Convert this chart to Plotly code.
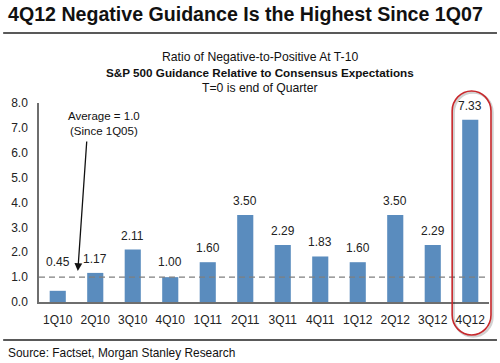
import plotly.graph_objects as go

categories = ["1Q10", "2Q10", "3Q10", "4Q10", "1Q11", "2Q11", "3Q11", "4Q11",
              "1Q12", "2Q12", "3Q12", "4Q12"]
values = [0.45, 1.17, 2.11, 1.00, 1.60, 3.50, 2.29, 1.83, 1.60, 3.50, 2.29, 7.33]
labels = ["0.45", "1.17", "2.11", "1.00", "1.60", "3.50", "2.29", "1.83",
          "1.60", "3.50", "2.29", "7.33"]
y_ticks = [0, 1, 2, 3, 4, 5, 6, 7, 8]
y_tick_labels = ["0.0", "1.0", "2.0", "3.0", "4.0", "5.0", "6.0", "7.0", "8.0"]
average = 1.0

W, H = 500, 363
L, R, T, B = 37, 489, 103, 302  # plot area in pixels

def px(x):
    return (x - L) / (R - L)

def py(y):
    return (B - y) / (B - T)

FONT = "Liberation Sans, Arial, sans-serif"
BAR = "#5A8CBE"

fig = go.Figure()
fig.add_trace(go.Bar(
    x=categories, y=values,
    marker=dict(color=BAR, line=dict(width=0)),
    hoverinfo="skip",
))

shapes = []
shapes.append(dict(type="line", xref="paper", yref="y", x0=0, x1=1, y0=average, y1=average,
                   line=dict(color="#7f7f7f", width=1.2, dash="6px,4px"), layer="above"))
shapes.append(dict(type="line", xref="paper", yref="paper", x0=px(1), x1=px(497), y0=py(33), y1=py(33),
                   line=dict(color="#222222", width=1.3)))
shapes.append(dict(type="line", xref="paper", yref="paper", x0=px(1), x1=px(497), y0=py(340), y1=py(340),
                   line=dict(color="#222222", width=1.3)))

def stadium(Lx, Rx, Ty, By, rx, ry, dx=0, dy=0):
    k = 0.5523
    cx = (Lx + Rx) / 2
    Lx += dx; Rx += dx; cx += dx; Ty += dy; By += dy
    pts = [
        ("M", [(Lx, Ty + ry)]),
        ("C", [(Lx, Ty + ry - k * ry), (cx - k * rx, Ty), (cx, Ty)]),
        ("C", [(cx + k * rx, Ty), (Rx, Ty + ry - k * ry), (Rx, Ty + ry)]),
        ("L", [(Rx, By - ry)]),
        ("C", [(Rx, By - ry + k * ry), (cx + k * rx, By), (cx, By)]),
        ("C", [(cx - k * rx, By), (Lx, By - ry + k * ry), (Lx, By - ry)]),
    ]
    s = ""
    for cmd, ps in pts:
        s += cmd + " " + " ".join(f"{px(a):.5f},{py(b):.5f}" for a, b in ps) + " "
    return s + "Z"

shapes.append(dict(type="path", xref="paper", yref="paper",
                   path=stadium(452, 491, 91, 335, 19.5, 20, 1.5, 1.5),
                   line=dict(color="rgba(0,0,0,0.18)", width=2.5), layer="above"))
shapes.append(dict(type="path", xref="paper", yref="paper",
                   path=stadium(452, 491, 91, 335, 19.5, 20),
                   line=dict(color="#C8282C", width=1.6), layer="above"))

annotations = [
    dict(text="<b>4Q12 Negative Guidance Is the Highest Since 1Q07</b>", xref="paper", yref="paper",
         x=px(4), y=py(14), xanchor="left", yanchor="middle", showarrow=False,
         font=dict(family=FONT, size=19.6, color="#111111")),
    dict(text="Ratio of Negative-to-Positive At T-10", xref="paper", yref="paper",
         x=px(259), y=py(57), xanchor="center", yanchor="middle", showarrow=False,
         font=dict(family=FONT, size=12.2, color="#111111")),
    dict(text="<b>S&P 500 Guidance Relative to Consensus Expectations</b>", xref="paper", yref="paper",
         x=px(259), y=py(72), xanchor="center", yanchor="middle", showarrow=False,
         font=dict(family=FONT, size=11.7, color="#111111")),
    dict(text="T=0 is end of Quarter", xref="paper", yref="paper",
         x=px(259), y=py(88), xanchor="center", yanchor="middle", showarrow=False,
         font=dict(family=FONT, size=12.2, color="#111111")),
    dict(text="Average = 1.0<br>(Since 1Q05)", xref="paper", yref="paper",
         x=px(102), y=py(123), xanchor="center", yanchor="middle", showarrow=False,
         font=dict(family=FONT, size=11.5, color="#111111")),
    dict(text="", xref="paper", yref="paper", x=px(76), y=py(271),
         ax=9, ay=-131, axref="pixel", ayref="pixel", showarrow=True,
         arrowhead=2, arrowsize=1.2, arrowwidth=1.3, arrowcolor="#111111"),
    dict(text="Source: Factset, Morgan Stanley Research", xref="paper", yref="paper",
         x=px(4), y=py(353), xanchor="left", yanchor="middle", showarrow=False,
         font=dict(family=FONT, size=11.9, color="#111111")),
]

for c, v, t in zip(categories, values, labels):
    annotations.append(dict(text=t, x=c, y=max(v, average + 0.05), xref="x", yref="y",
                            xanchor="center", yanchor="bottom", yshift=5, showarrow=False,
                            font=dict(family=FONT, size=12, color="#222222")))

fig.update_layout(
    width=W, height=H,
    margin=dict(l=L, r=W - R, t=T, b=H - B, pad=0),
    paper_bgcolor="white", plot_bgcolor="white",
    showlegend=False, bargap=0.57,
    shapes=shapes, annotations=annotations,
    font=dict(family=FONT, color="#222222"),
    xaxis=dict(showgrid=False, showline=True, linecolor="#6e6e6e", linewidth=1.5,
               tickfont=dict(family=FONT, size=12, color="#222222"), ticks="", ticklen=0,
               ticklabelstandoff=6, fixedrange=True),
    yaxis=dict(range=[0, 8], tickvals=y_ticks, ticktext=y_tick_labels, showgrid=False,
               showline=True, linecolor="#6e6e6e", linewidth=1.5, zeroline=False,
               tickfont=dict(family=FONT, size=12, color="#222222"), ticks="",
               ticklabelstandoff=7, fixedrange=True),
)

fig.write_html("out.html", config={"displayModeBar": False},
               post_script="document.body.style.margin='0';document.body.style.overflow='hidden';")
